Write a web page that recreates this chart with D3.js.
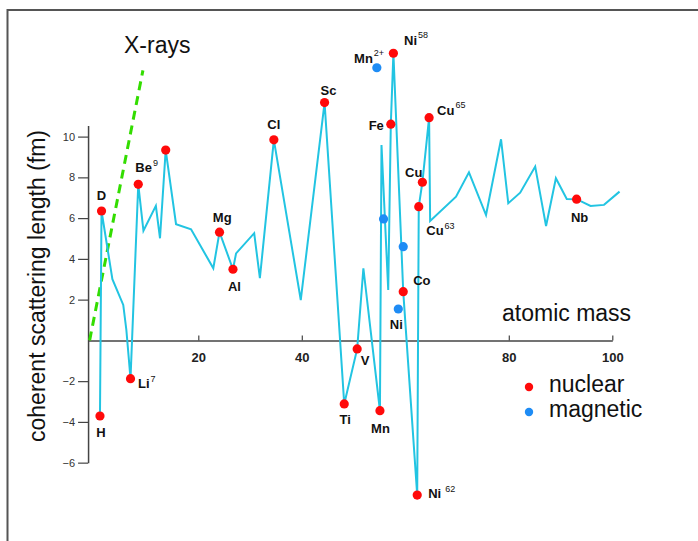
<!DOCTYPE html>
<html><head><meta charset="utf-8">
<script src="https://cdn.jsdelivr.net/npm/d3@7"></script>
<style>
html,body{margin:0;padding:0;background:#fff;}
svg{display:block;font-family:"Liberation Sans",Arial,Helvetica,sans-serif;}
</style></head><body>
<svg id="chart" width="698" height="541"></svg>
<script>
// ---------- data ----------
const yTicks = [-6, -4, -2, 2, 4, 6, 8, 10];
const xTicks = [20, 40, 80, 100];

// connected curve of coherent scattering length vs atomic mass
const lineMass = [1.0, 1.3, 3.4, 5.5, 6.1, 6.9, 8.4, 9.4, 11.8, 12.6, 13.7, 15.7, 18.6, 22.9, 24.1, 26.7,
  27.3, 30.8, 31.9, 34.6, 39.8, 44.4, 48.2, 50.7, 51.9, 55.1, 55.4, 56.7, 57.2, 57.7, 59.6, 62.3, 62.6,
  63.3, 64.6, 64.8, 69.8, 72.3, 75.6, 78.5, 79.9, 82.2, 85.1, 87.2, 89.1, 91.2, 93.1, 95.8, 98.4, 101.4];
const lineB = [-3.71, 6.35, 3.0, 1.74, 0.51, -1.88, 7.66, 5.38, 6.6, 5.01, 9.34, 5.7, 5.45, 3.54, 5.31, 3.49,
  4.27, 5.26, 3.05, 9.84, 1.98, 11.67, -3.12, -0.42, 3.54, -3.45, 9.59, 2.47, 10.61, 14.09, 2.39, -7.59, 6.56,
  7.76, 10.93, 5.86, 7.05, 8.25, 6.15, 9.87, 6.73, 7.25, 8.53, 5.61, 7.96, 6.94, 6.93, 6.6, 6.65, 7.3];

// nuclear (red) points
const nuclearName = ["H", "D", "Li", "Be", "", "Mg", "Al", "Cl", "Sc", "Ti", "V", "Mn", "Fe", "Ni", "Co", "Ni", "Cu", "Cu", "Cu", "Nb"];
const nuclearIso  = ["", "", "7", "9", "", "", "", "", "", "", "", "", "", "58", "", "62", "63", "", "65", ""];
const nuclearMass = [1.0, 1.3, 6.9, 8.4, 13.7, 24.1, 26.7, 34.6, 44.4, 48.2, 50.7, 55.1, 57.2, 57.7, 59.6, 62.3, 62.6, 63.3, 64.6, 93.1];
const nuclearB    = [-3.71, 6.35, -1.88, 7.66, 9.34, 5.31, 3.49, 9.84, 11.67, -3.12, -0.42, -3.45, 10.61, 14.09, 2.39, -7.59, 6.56, 7.76, 10.93, 6.93];

// magnetic (blue) points
const magneticName = ["Mn", "", "", "Ni"];
const magneticIso  = ["2+", "", "", ""];
const magneticMass = [54.5, 55.8, 59.6, 58.65];
const magneticB    = [13.38, 5.96, 4.6, 1.54];

// X-ray reference line
const xrayMass = [-1.0, 9.3];
const xrayB = [0, 13.25];

const legendItems = ["nuclear", "magnetic"];

// ---------- layout ----------
const nuclearLabelPos = [
  [1, 21, "middle"], [0, -11, "middle"], [7.5, 9.5, "start"], [-3, -12, "start"], null,
  [2.7, -10, "middle"], [1.5, 21.4, "middle"], [0, -10.7, "middle"], [4, -7.7, "middle"],
  [1, 20, "middle"], [8, 16, "middle"], [0.5, 22, "middle"], [-7, 5.7, "end"],
  [10.7, -8.3, "start"], [10, -6.7, "start"], [11, 3.3, "start"], [7.5, 28.3, "start"],
  [0, -5.6, "end"], [8, -2.7, "start"], [3, 22.4, "middle"]
];
const magneticLabelPos = [[7.3, -5, "end"], null, null, [-2, 20.3, "middle"]];

const COL_LINE = "#22c4e2", COL_NUC = "#ff0a0a", COL_MAG = "#1e8cf5", COL_X = "#33dd00";

const svg = d3.select("#chart");
const x = d3.scaleLinear().domain([-1.3, 100]).range([88.07, 612.3]);
const y = d3.scaleLinear().domain([-6, 10.55]).range([462.65, 125.4]);

// frame
svg.append("path").attr("d", "M7.5,541V10H698").attr("fill", "none")
  .attr("stroke", "#555").attr("stroke-width", 2);

// y axis
const fmt = d => d < 0 ? "\u2212" + Math.abs(d) : String(d);
const gy = svg.append("g").attr("transform", `translate(${x(-1.3)},0)`)
  .call(d3.axisLeft(y).tickValues(yTicks).tickSize(10).tickSizeOuter(0).tickPadding(3).tickFormat(fmt));
gy.select(".domain").attr("stroke", "#444").attr("stroke-width", 1.5);
gy.selectAll(".tick line").attr("stroke", "#444").attr("stroke-width", 1.2);
gy.selectAll(".tick text").attr("fill", "#333").style("font-size", "11px")
  .style("font-family", "'Liberation Sans',Arial,sans-serif");

// x axis
const gx = svg.append("g").attr("transform", `translate(0,${y(0)})`)
  .call(d3.axisBottom(x).tickValues(xTicks).tickSize(-5).tickSizeOuter(0).tickPadding(12));
gx.select(".domain").attr("stroke", "#444").attr("stroke-width", 1.5);
gx.selectAll(".tick line").attr("stroke", "#444").attr("stroke-width", 1.2);
gx.selectAll(".tick text").attr("fill", "#222").style("font-size", "13px").style("font-weight", "bold")
  .style("font-family", "'Liberation Sans',Arial,sans-serif");

// X-ray dashed line
svg.append("path")
  .datum(d3.range(xrayMass.length))
  .attr("d", d3.line().x(i => x(xrayMass[i])).y(i => y(xrayB[i])))
  .attr("fill", "none").attr("stroke", COL_X).attr("stroke-width", 3)
  .attr("stroke-dasharray", "9,6");

// main curve
svg.append("path")
  .datum(d3.range(lineMass.length))
  .attr("d", d3.line().x(i => x(lineMass[i])).y(i => y(lineB[i])))
  .attr("fill", "none").attr("stroke", COL_LINE).attr("stroke-width", 2)
  .attr("stroke-linejoin", "miter").attr("stroke-miterlimit", 4);

// points
function drawPoints(mass, b, color) {
  svg.append("g").selectAll("circle").data(d3.range(mass.length)).join("circle")
    .attr("cx", i => x(mass[i])).attr("cy", i => y(b[i])).attr("r", 4.6).attr("fill", color);
}
drawPoints(nuclearMass, nuclearB, COL_NUC);
drawPoints(magneticMass, magneticB, COL_MAG);

// labels
function drawLabels(names, isos, mass, b, pos) {
  names.forEach((n, i) => {
    if (!n || !pos[i]) return;
    const [dx, dy, anchor] = pos[i];
    const t = svg.append("text")
      .attr("x", x(mass[i]) + dx).attr("y", y(b[i]) + dy)
      .attr("text-anchor", anchor).attr("fill", "#111")
      .style("font-size", "13px").style("font-weight", "bold").text(n);
    if (isos[i]) {
      t.append("tspan").attr("dx", n === "Ni" && isos[i] === "62" ? 4 : 1).attr("dy", -6.5)
        .style("font-size", "9px").style("font-weight", "normal").text(isos[i]);
    }
  });
}
drawLabels(nuclearName, nuclearIso, nuclearMass, nuclearB, nuclearLabelPos);
drawLabels(magneticName, magneticIso, magneticMass, magneticB, magneticLabelPos);

// titles
svg.append("text").attr("x", 124).attr("y", 53).style("font-size", "23px").attr("fill", "#111").text("X-rays");
svg.append("text").attr("x", 502).attr("y", 321).style("font-size", "23px").attr("fill", "#111").text("atomic mass");
svg.append("text").attr("transform", "translate(45,286) rotate(-90)").attr("text-anchor", "middle")
  .style("font-size", "23px").attr("fill", "#111").text("coherent scattering length (fm)");

// legend
const legendColors = [COL_NUC, COL_MAG];
const lg = svg.append("g").attr("transform", "translate(529,387)");
legendItems.forEach((name, i) => {
  lg.append("circle").attr("cx", 0).attr("cy", i * 25).attr("r", 4.2).attr("fill", legendColors[i]);
  lg.append("text").attr("x", 20).attr("y", i * 25 + 5).style("font-size", "23px").attr("fill", "#111").text(name);
});
</script>
</body></html>
